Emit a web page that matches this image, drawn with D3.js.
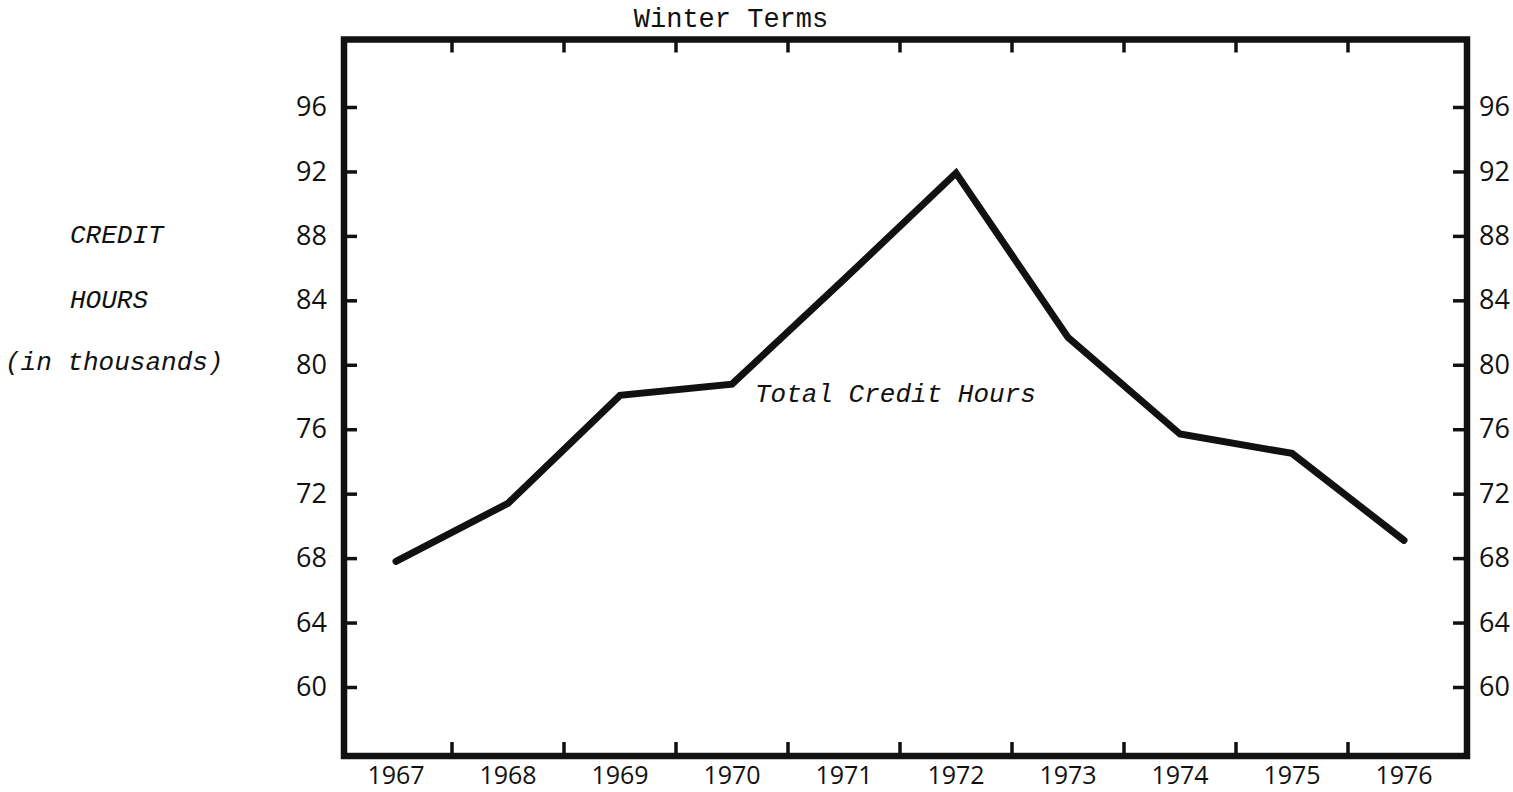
<!DOCTYPE html>
<html>
<head>
<meta charset="utf-8">
<script src="https://cdn.jsdelivr.net/npm/d3@7"></script>
<style>
  html, body { margin: 0; padding: 0; background: #fff; }
  svg { display: block; }
</style>
</head>
<body>
<svg id="chart" width="1513" height="792"></svg>
<script>
// Winter term credit hours, in thousands
const years = [1967, 1968, 1969, 1970, 1971, 1972, 1973, 1974, 1975, 1976];
const creditHours = [67.8, 71.4, 78.1, 78.8, 85.3, 91.9, 81.7, 75.7, 74.5, 69.1];
const yTicks = [60, 64, 68, 72, 76, 80, 84, 88, 92, 96];
const yLabelLines = ["CREDIT", "HOURS", "(in thousands)"];
const title = "Winter Terms";
const seriesLabel = "Total Credit Hours";

const svg = d3.select("#chart");
const ink = "#111";

// frame edges
const frame = { left: 344, right: 1467, top: 39.5, bottom: 756 };

const x = d3.scaleBand().domain(years).range([340, 1460]);
const y = d3.scaleLinear().domain([60, 96]).range([687, 107]);

const tickFont = "'Open Sans', 'Liberation Sans', sans-serif";
const typeFont = "'Liberation Mono', 'Courier New', monospace";

// frame
svg.append("rect")
  .attr("x", frame.left).attr("y", frame.top)
  .attr("width", frame.right - frame.left)
  .attr("height", frame.bottom - frame.top)
  .attr("fill", "none").attr("stroke", ink).attr("stroke-width", 6.5);

// interior tick marks at band boundaries (top and bottom)
const bounds = years.slice(1).map(d => x(d));
svg.append("g").selectAll("line").data(bounds).join("line")
  .attr("x1", d => d).attr("x2", d => d)
  .attr("y1", frame.bottom).attr("y2", frame.bottom - 14)
  .attr("stroke", ink).attr("stroke-width", 3.5);
svg.append("g").selectAll("line").data(bounds).join("line")
  .attr("x1", d => d).attr("x2", d => d)
  .attr("y1", frame.top).attr("y2", frame.top + 13)
  .attr("stroke", ink).attr("stroke-width", 3.5);

// left axis: ticks point inward, labels to the left
const leftAxis = svg.append("g")
  .attr("transform", `translate(${frame.left},0)`)
  .call(d3.axisLeft(y).tickValues(yTicks).tickSize(-13).tickPadding(17).tickFormat(d3.format("d")));
// right axis
const rightAxis = svg.append("g")
  .attr("transform", `translate(${frame.right},0)`)
  .call(d3.axisRight(y).tickValues(yTicks).tickSize(-14).tickPadding(12).tickFormat(d3.format("d")));

[leftAxis, rightAxis].forEach(g => {
  g.select(".domain").remove();
  g.selectAll(".tick line").attr("stroke", ink).attr("stroke-width", 3.5);
  g.selectAll(".tick text")
    .attr("fill", ink)
    .style("font-family", tickFont)
    .style("font-size", "27px");
});

// bottom year labels centred in each band
svg.append("g")
  .attr("transform", `translate(0,${frame.bottom})`)
  .call(d3.axisBottom(x).tickSize(0).tickPadding(10))
  .call(g => g.select(".domain").remove())
  .call(g => g.selectAll(".tick text")
    .attr("fill", ink)
    .style("font-family", tickFont)
    .style("font-size", "25px"));

// data line
const line = d3.line()
  .x((d, i) => x(years[i]) + x.bandwidth() / 2)
  .y(d => y(d));
svg.append("path")
  .datum(creditHours)
  .attr("d", line)
  .attr("fill", "none")
  .attr("stroke", ink)
  .attr("stroke-width", 7)
  .attr("stroke-linejoin", "miter")
  .attr("stroke-linecap", "round");

// title
svg.append("text")
  .attr("x", 731).attr("y", 27)
  .attr("text-anchor", "middle")
  .attr("fill", ink)
  .style("font-family", typeFont)
  .style("font-size", "27px")
  .text(title);

// series label
svg.append("text")
  .attr("x", 755).attr("y", 402)
  .attr("fill", ink)
  .style("font-family", typeFont)
  .style("font-style", "italic")
  .style("font-size", "26px")
  .text(seriesLabel);

// y-axis caption
svg.append("g").selectAll("text").data(yLabelLines).join("text")
  .attr("x", (d, i) => i < 2 ? 70 : 5)
  .attr("y", (d, i) => [243, 308, 370][i])
  .attr("fill", ink)
  .style("font-family", typeFont)
  .style("font-style", "italic")
  .style("font-size", "26px")
  .text(d => d);
</script>
</body>
</html>
